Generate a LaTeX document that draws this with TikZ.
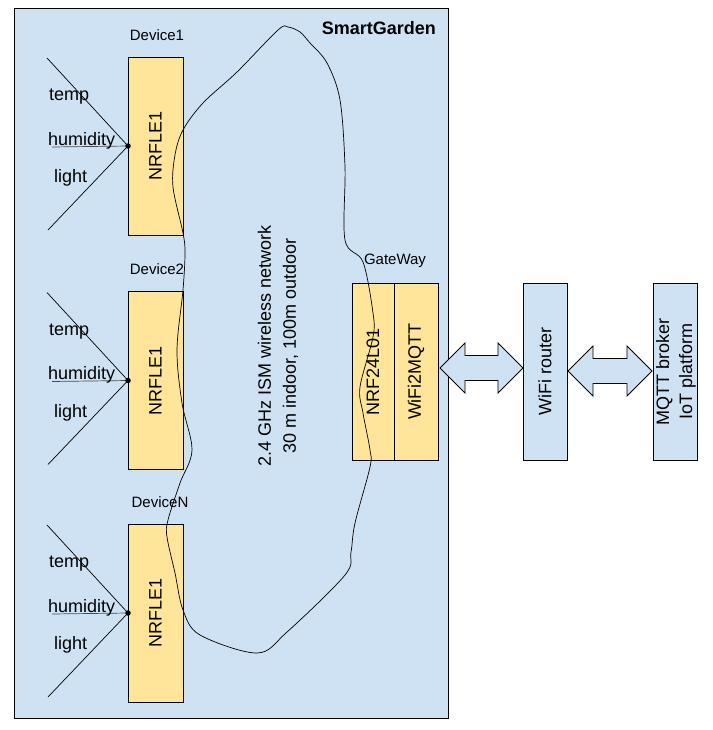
\documentclass[tikz,border=0pt]{standalone}
\usepackage{fontspec}
\setmainfont{Liberation Sans}
\usetikzlibrary{calc}
\definecolor{bluebg}{HTML}{CFE2F3}
\definecolor{yelbox}{HTML}{FFE599}
\tikzset{
  big/.style={font=\fontsize{18}{25}\selectfont, inner sep=0pt},
  small/.style={font=\fontsize{15}{18}\selectfont, inner sep=0pt},
  ybox/.style={draw=black, fill=yelbox, line width=0.8pt, inner sep=0pt},
  bbox/.style={draw=black, fill=bluebg, line width=0.8pt, inner sep=0pt},
  sline/.style={draw=black, line width=0.7pt},
  dot/.style={circle, fill=black, inner sep=0pt, minimum size=5.5pt},
  blk/.style={draw=black, fill=bluebg, line width=0.8pt, line join=miter},
}
\newcommand{\dblarr}[3]{% x1, x2, yc
  \path[blk] (#1,#3) -- ++(25,-25) -- ++(0,12.5) -- (#2-25,#3-12.5) -- ++(0,-12.5)
   -- (#2,#3) -- (#2-25,#3+25) -- ++(0,-12.5) -- (#1+25,#3+12.5) -- ++(0,12.5) -- cycle;}
\begin{document}
\begin{tikzpicture}[x=1pt,y=-1pt]
\useasboundingbox (0,0) rectangle (712,730);
% outer frame
\node[bbox, minimum width=434pt, minimum height=710pt] (sg) at (231,363) {};
\node[big, font=\fontsize{18}{25}\selectfont\bfseries, anchor=east] (title) at (436,28) {SmartGarden};

% devices
\foreach \n/\yc/\lab/\lx in {1/146/Device1/157, 2/380.5/Device2/157, 3/613/DeviceN/160}{
  \node[ybox, minimum width=55pt, minimum height=178pt] (dev\n) at (155.5,\yc) {};
  \node[big, rotate=90] at (dev\n) {NRFLE1};
  \node[small] (dl\n) at (\lx,\yc-111) {\lab};
  \coordinate (p\n) at (128,\yc);
  \coordinate (ts\n) at (47,\yc-88);
  \coordinate (ls\n) at (48,\yc+84);
  \coordinate (hs\n) at (52,\yc+1);
  \draw[sline] (ts\n) -- (p\n);
  \draw[sline] (ls\n) -- (p\n);
  \draw[sline, draw=black!70] (hs\n) -- (p\n);
  \node[dot] (dd\n) at (p\n) {};
  \node[big, anchor=west] (t\n) at (49,\yc-49) {temp};
  \node[big, anchor=west] (h\n) at (48,\yc-5.5) {humidity};
  \node[big, anchor=west] (l\n) at (54,\yc+32) {light};
}

% gateway
\node[small] (gwl) at (395,261) {GateWay};
\node[ybox, minimum width=42pt, minimum height=177pt] (nrf) at (373,371.5) {};
\node[ybox, minimum width=44pt, minimum height=177pt] (wf) at (416,371.5) {};
\node[big, rotate=90] at (nrf) {NRF24L01};
\node[big, rotate=90] at (wf) {WiFi2MQTT};

% router and broker
\node[bbox, minimum width=44pt, minimum height=177pt] (rt) at (545,371.5) {};
\node[big, rotate=90] at (rt) {WiFi router};
\node[bbox, minimum width=44pt, minimum height=177pt] (mq) at (675,371.5) {};
\node[big, rotate=90, align=center, font=\fontsize{18}{23}\selectfont] at (676,371.5) {MQTT broker\\IoT platform};

% block arrows
\dblarr{440}{523}{368}
\dblarr{568}{652}{371}

% network text
\node[big, rotate=90, align=center] (net) at (278,346) {2.4 GHz ISM wireless network\\30 m indoor, 100m outdoor};

% wireless blob
\draw[line width=0.7pt] plot[smooth cycle, tension=0.55] coordinates {
 (288,27) (300,32) (310,43) (327,63) (340,100) (345,167) (345,240) (363,262)
 (373,313) (373,337) (360,387) (363,413) (370,450) (370,467) (355,523) (351,552)
 (345,575) (287,632) (257,653) (200,635) (183,610) (175,573) (167,537) (168,520)
 (180,483) (192,450) (182,403) (177,350) (183,290) (185,253) (183,233) (173,187)
 (175,155) (183,130) (203,103) (237,72) (278,30)};
\end{tikzpicture}
\end{document}
